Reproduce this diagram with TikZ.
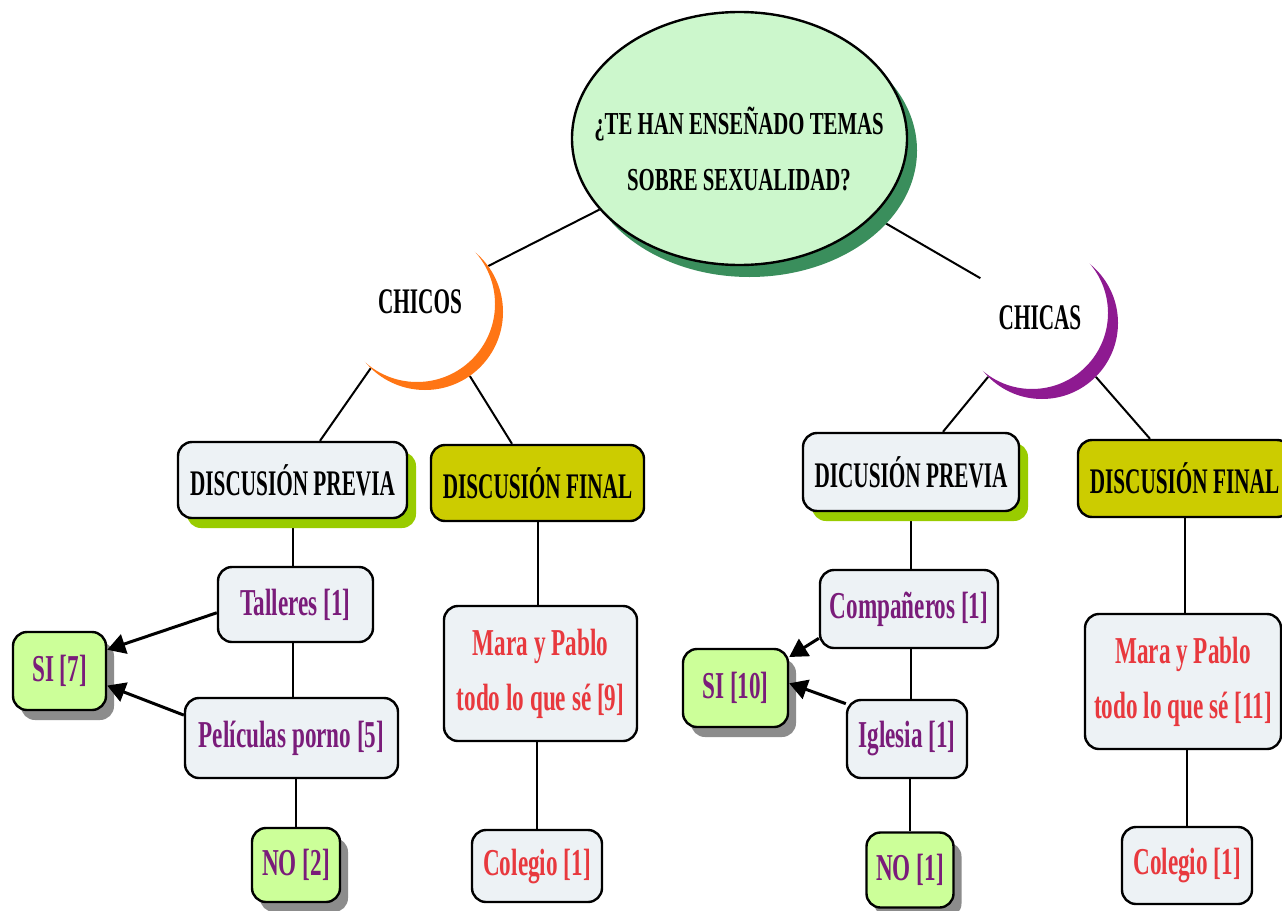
\documentclass[tikz,border=0pt]{standalone}
\usepackage{fontspec}
\setmainfont{Liberation Serif}[FakeStretch=0.65]
\newfontfamily\hdrfont{Liberation Serif}[FakeStretch=0.59]
\newfontfamily\lowfont{Liberation Serif}[FakeStretch=0.61]
\usetikzlibrary{shapes.geometric,shadows,arrows.meta,backgrounds}
\definecolor{elfill}{HTML}{CCF7CC}
\definecolor{elshadow}{HTML}{3A8E5C}
\definecolor{boxfill}{HTML}{EDF2F5}
\definecolor{hshadow}{HTML}{99CC00}
\definecolor{finfill}{HTML}{CCCC00}
\definecolor{sifill}{HTML}{CCFF99}
\definecolor{purp}{HTML}{7A1C7A}
\definecolor{redt}{HTML}{E8393E}
\definecolor{orng}{HTML}{FF7514}
\definecolor{purc}{HTML}{8E1A91}
\begin{document}
\begin{tikzpicture}[x=1pt,y=-1pt,line join=round,
  box/.style={draw=black,line width=2.4pt,rounded corners=14pt,fill=boxfill,inner sep=0pt,align=center},
  hdr/.style={font=\hdrfont\fontsize{36}{40}\selectfont\bfseries},
  low/.style={font=\lowfont\fontsize{38}{55}\selectfont\bfseries},
  gsh/.style={drop shadow={shadow xshift=9pt,shadow yshift=-10pt,fill=hshadow,opacity=1}},
  greysh/.style={drop shadow={shadow xshift=8pt,shadow yshift=-10pt,fill=black!45,opacity=1}},
  sibox/.style={box,fill=sifill,greysh,low,text=purp},
  conn/.style={line width=2pt},
  arr/.style={line width=3pt,-{Triangle[length=18pt,width=20pt]}}]
\useasboundingbox (0,0) rectangle (1282,910);

% central ellipse
\node[ellipse,draw=black,line width=2.4pt,fill=elfill,minimum width=335,minimum height=253,
  drop shadow={shadow xshift=10pt,shadow yshift=-12pt,fill=elshadow,opacity=1}] (q) at (739.5,138.5) {};
\node[align=center,font=\fontsize{32}{56}\selectfont\bfseries] (qt) at (739,149) {¿TE HAN ENSEÑADO TEMAS\\SOBRE SEXUALIDAD?};

% crescents
\node[circle,minimum size=156,inner sep=0pt] (chicos) at (425,312) {};
\begin{scope}
  \clip (425,312) circle (78);
  \fill[orng,even odd rule] (320,200) rectangle (530,420) (417,304) circle (78);
\end{scope}
\node[hdr] (chicoslbl) at (420,302) {CHICOS};

\node[circle,minimum size=152,inner sep=0pt] (chicas) at (1042,323) {};
\begin{scope}
  \clip (1042,323) circle (76);
  \fill[purc,even odd rule] (940,220) rectangle (1140,420) (1032,313) circle (76);
\end{scope}
\node[hdr] (chicaslbl) at (1040,318) {CHICAS};

% left branch
\node[box,gsh,hdr,minimum width=229,minimum height=76] (dpl) at (292.5,480) {DISCUSIÓN PREVIA};
\node[box,fill=finfill,hdr,minimum width=213,minimum height=76] (dfl) at (537.5,483) {DISCUSIÓN FINAL};
\node[box,low,text=purp,minimum width=155,minimum height=75] (talleres) at (295.5,604.5) {Talleres [1]};
\node[box,low,text=purp,minimum width=213,minimum height=80] (peliculas) at (291.5,738) {Películas porno [5]};
\node[sibox,minimum width=93,minimum height=78] (si7) at (59.5,671) {SI [7]};
\node[sibox,minimum width=88,minimum height=74] (no2) at (296,865) {NO [2]};
\node[box,low,text=redt,minimum width=193,minimum height=135] (mara9) at (540.5,673.5) {Mara y Pablo\\todo lo que sé [9]};
\node[box,low,text=redt,minimum width=130,minimum height=72] (col9) at (537,866) {Colegio [1]};

% right branch
\node[box,gsh,hdr,minimum width=216,minimum height=78] (dpr) at (911,472) {DICUSIÓN PREVIA};
\node[box,fill=finfill,hdr,minimum width=213,minimum height=77] (dfr) at (1184.5,478.5) {DISCUSIÓN FINAL};
\node[box,low,text=purp,minimum width=178,minimum height=78] (comp) at (909,609) {Compañeros [1]};
\node[box,low,text=purp,minimum width=120,minimum height=78] (iglesia) at (907,739) {Iglesia [1]};
\node[sibox,minimum width=105,minimum height=78] (si10) at (735.5,688) {SI [10]};
\node[sibox,minimum width=87,minimum height=75] (no1) at (910,870) {NO [1]};
\node[box,low,text=redt,minimum width=196,minimum height=135] (mara11) at (1183,681.5) {Mara y Pablo\\todo lo que sé [11]};
\node[box,low,text=redt,minimum width=130,minimum height=77] (col11) at (1187,865.5) {Colegio [1]};

\begin{scope}[on background layer]
  \fill[white] (0,0) rectangle (1282,910);
  \draw[conn] (q) -- (chicos.36);
  \draw[conn] (q) -- (chicas.144);
  \draw[conn] (chicos.-134) -- ([xshift=27.5pt]dpl.north);
  \draw[conn] (chicos.-55) -- ([xshift=-25.5pt]dfl.north);
  \draw[conn] (chicas.-135) -- ([xshift=32pt]dpr.north);
  \draw[conn] (chicas.-45) -- ([xshift=-34.5pt]dfr.north);
  \draw[conn] (dpl.south) -- (talleres.north -| dpl.south);
  \draw[conn] (talleres.south -| dpl.south) -- (peliculas.north -| dpl.south);
  \draw[conn] (peliculas.south -| no2.north) -- (no2.north);
  \draw[conn] (dfl.south) -- (mara9.north -| dfl.south);
  \draw[conn] (mara9.south -| col9.north) -- (col9.north);
  \draw[conn] (dpr.south) -- (comp.north -| dpr.south);
  \draw[conn] (comp.south -| dpr.south) -- (iglesia.north -| dpr.south);
  \draw[conn] (iglesia.south -| no1.north) -- (no1.north);
  \draw[conn] (dfr.south) -- (mara11.north -| dfr.south);
  \draw[conn] (mara11.south -| col11.north) -- (col11.north);
\end{scope}
\draw[arr] (talleres.186) -- (si7.24);
\draw[arr] (peliculas.168) -- (si7.-17);
\draw[arr] (comp.198) -- (si10.30);
\draw[arr] (iglesia.150) -- (si10.5);
\end{tikzpicture}
\end{document}
